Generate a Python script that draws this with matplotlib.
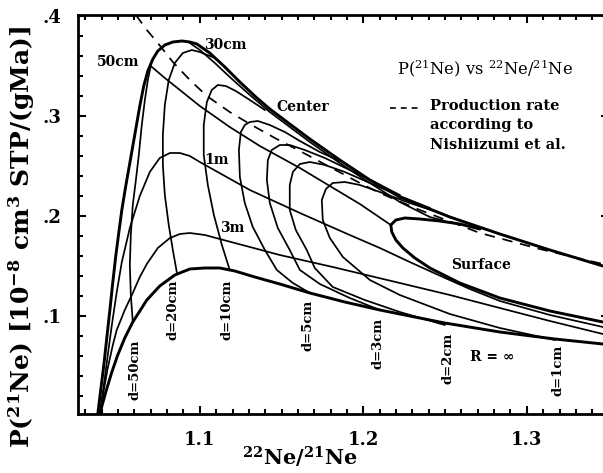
import matplotlib
matplotlib.use("Agg")
import matplotlib.pyplot as plt
from matplotlib.ticker import MultipleLocator

plt.rcParams['font.family'] = ['DejaVu Serif']
plt.rcParams['mathtext.fontset'] = 'custom'
plt.rcParams['mathtext.rm'] = 'DejaVu Serif'
plt.rcParams['mathtext.bf'] = 'DejaVu Serif:bold'
plt.rcParams['mathtext.default'] = 'regular'

# ---- data (x = 22Ne/21Ne, y = P(21Ne)) ----
center = [(1.0376, .002), (1.0394, .026), (1.0413, .051), (1.0431, .078), (1.0450, .106),
          (1.0468, .134), (1.0486, .160), (1.0505, .184), (1.0523, .206), (1.0547, .230),
          (1.0572, .253), (1.0602, .281), (1.0633, .310), (1.0657, .330), (1.0682, .345),
          (1.0713, .357), (1.0743, .365), (1.0786, .371), (1.0835, .374), (1.0890, .375),
          (1.0939, .374), (1.0982, .372), (1.1061, .363), (1.1153, .349), (1.1245, .334),
          (1.1336, .320), (1.1428, .307), (1.1550, .292), (1.1673, .277), (1.1856, .256),
          (1.2040, .236), (1.2223, .219), (1.2529, .199), (1.2835, .182), (1.3141, .166),
          (1.3465, .150)]
r_inf = [(1.0388, .002), (1.0425, .024), (1.0462, .044), (1.0498, .061), (1.0541, .078),
         (1.0590, .094), (1.0676, .116), (1.0755, .130), (1.0847, .141), (1.0939, .147),
         (1.1031, .148), (1.1122, .148), (1.1214, .145), (1.1336, .139), (1.1489, .132),
         (1.1673, .123), (1.1887, .114), (1.2101, .106), (1.2498, .093), (1.2835, .084),
         (1.3171, .077), (1.3465, .072)]
r_3m = [(1.0388, .002), (1.0413, .026), (1.0437, .048), (1.0468, .071), (1.0492, .086),
        (1.0541, .106), (1.0590, .123), (1.0633, .139), (1.0676, .152), (1.0743, .168),
        (1.0817, .178), (1.0878, .182), (1.0939, .183), (1.1031, .181), (1.1122, .177),
        (1.1306, .169), (1.1489, .161), (1.1813, .149), (1.2223, .133), (1.2529, .121),
        (1.2835, .108), (1.3141, .095), (1.3465, .082)]
r_1m = [(1.0388, .002), (1.0413, .031), (1.0437, .061), (1.0462, .091), (1.0492, .124),
        (1.0523, .154), (1.0572, .188), (1.0633, .220), (1.0694, .244), (1.0755, .258),
        (1.0817, .263), (1.0878, .263), (1.0939, .260), (1.1000, .254), (1.1306, .226),
        (1.1612, .203), (1.1917, .181), (1.2101, .168), (1.2284, .154), (1.2486, .139),
        (1.2651, .127), (1.2835, .115), (1.3141, .101), (1.3465, .089)]
r_50cm = [(1.0700, .350), (1.0786, .338), (1.0878, .326), (1.1000, .310), (1.1183, .289),
          (1.1367, .270), (1.1612, .248), (1.1795, .230), (1.1979, .212), (1.2168, .191)]
r_30cm = [(1.0939, .373), (1.1000, .366), (1.1092, .353), (1.1183, .339), (1.1306, .321),
          (1.1428, .304), (1.1550, .289), (1.1673, .274), (1.1856, .253), (1.2040, .233),
          (1.2223, .214), (1.2407, .199), (1.2498, .195)]
surface = [(1.2713, .187), (1.2590, .192), (1.2468, .195), (1.2346, .197), (1.2254, .198),
           (1.2199, .196), (1.2168, .191), (1.2174, .184), (1.2199, .176), (1.2242, .168),
           (1.2315, .158), (1.2407, .148), (1.2590, .133), (1.2835, .118), (1.3141, .105),
           (1.3465, .094)]
d_50cm = [(1.0590, .094), (1.0578, .121), (1.0572, .151), (1.0578, .181), (1.0590, .211),
          (1.0609, .236), (1.0627, .261), (1.0645, .291), (1.0664, .316), (1.0682, .336),
          (1.0700, .350)]
d_20cm = [(1.0859, .144), (1.0835, .166), (1.0810, .191), (1.0786, .221), (1.0774, .251),
          (1.0774, .281), (1.0786, .311), (1.0810, .336), (1.0847, .353), (1.0896, .363),
          (1.0951, .366), (1.1000, .364), (1.1092, .358)]
d_10cm = [(1.1183, .146), (1.1135, .171), (1.1086, .201), (1.1049, .231), (1.1024, .261),
          (1.1024, .291), (1.1043, .314), (1.1073, .326), (1.1110, .331), (1.1159, .330),
          (1.1220, .325), (1.1306, .316), (1.1398, .306)]
d_5cm = [(1.1673, .123), (1.1569, .133), (1.1471, .146), (1.1398, .166), (1.1324, .189),
         (1.1275, .213), (1.1245, .239), (1.1239, .266), (1.1251, .284), (1.1275, .291),
         (1.1306, .294), (1.1355, .295), (1.1428, .291), (1.1520, .284), (1.1612, .275),
         (1.1734, .264), (1.1856, .255)]
d_3cm = [(1.2101, .106), (1.1917, .118), (1.1734, .132), (1.1612, .146), (1.1550, .166),
         (1.1477, .188), (1.1428, .213), (1.1410, .236), (1.1416, .256), (1.1440, .266),
         (1.1489, .271), (1.1550, .271), (1.1642, .266), (1.1765, .258), (1.1917, .246),
         (1.2070, .234), (1.2223, .221)]
d_2cm = [(1.2498, .091), (1.2223, .104), (1.2009, .116), (1.1813, .129), (1.1703, .148),
         (1.1654, .166), (1.1587, .186), (1.1550, .206), (1.1550, .231), (1.1569, .244),
         (1.1612, .252), (1.1673, .254), (1.1765, .251), (1.1887, .244), (1.2040, .233),
         (1.2223, .220), (1.2407, .208)]
d_1cm = [(1.3171, .076), (1.2835, .088), (1.2529, .102), (1.2223, .121), (1.2040, .136),
         (1.1875, .159), (1.1795, .178), (1.1752, .196), (1.1746, .216), (1.1771, .227),
         (1.1813, .233), (1.1887, .234), (1.1979, .231), (1.2101, .224), (1.2284, .213),
         (1.2468, .203), (1.2651, .192)]
nishiizumi = [(1.0609, .401), (1.0676, .386), (1.0743, .373), (1.0835, .354), (1.0939, .336),
              (1.1043, .320), (1.1183, .304), (1.1306, .292), (1.1459, .278), (1.1612, .265),
              (1.1795, .249), (1.1979, .233), (1.2101, .223), (1.2346, .206), (1.2713, .183),
              (1.3079, .167), (1.3465, .152)]

thick_curves = [center, r_inf, surface]
thin_curves = [r_3m, r_1m, r_50cm, r_30cm, d_50cm, d_20cm, d_10cm, d_5cm, d_3cm, d_2cm, d_1cm]

radius_labels = ["50cm", "30cm", "Center", "1m", "3m", "Surface", "R = \u221e"]
radius_label_pos = [(1.0498, .354), (1.1153, .371), (1.1630, .309), (1.1104, .256),
                    (1.1200, .188), (1.2719, .151), (1.2786, .059)]
depth_labels = ["d=50cm", "d=20cm", "d=10cm", "d=5cm", "d=3cm", "d=2cm", "d=1cm"]
depth_label_pos = [(1.0602, .046), (1.0835, .106), (1.1165, .106), (1.1661, .091),
                   (1.2089, .073), (1.2517, .058), (1.3190, .046)]

legend_dash_x = [1.2162, 1.2346]
legend_dash_y = [0.308, 0.308]
legend_text = "Production rate\naccording to\nNishiizumi et al."

xticks = [1.1, 1.2, 1.3]
xticklabels = ["1.1", "1.2", "1.3"]
yticks = [0.1, 0.2, 0.3, 0.4]
yticklabels = [".1", ".2", ".3", ".4"]

# ---- figure ----
W, H = 603, 473
fig = plt.figure(figsize=(W / 100, H / 100), dpi=100)
ax = fig.add_axes([78 / W, 59 / H, 530.6 / W, 399 / H])
ax.set_xlim(1.0255, 1.35)
ax.set_ylim(0.002, 0.401)

for c in thick_curves:
    xs, ys = zip(*c)
    ax.plot(xs, ys, color='black', lw=2.1, solid_capstyle='round', solid_joinstyle='round')
for c in thin_curves:
    xs, ys = zip(*c)
    ax.plot(xs, ys, color='black', lw=1.25, solid_joinstyle='round')
xs, ys = zip(*nishiizumi)
ax.plot(xs, ys, color='black', lw=1.25, dashes=(6, 4.5))

for t, (x, y) in zip(radius_labels, radius_label_pos):
    ax.text(x, y, t, ha='center', va='center', fontsize=10, fontweight='bold')
for t, (x, y) in zip(depth_labels, depth_label_pos):
    ax.text(x, y, t, ha='center', va='center', fontsize=9.5, fontweight='bold', rotation=90)

ax.text(1.2743, 0.348, r"P($^{21}$Ne) vs $^{22}$Ne/$^{21}$Ne", ha='center', va='center',
        fontsize=11.8)
# legend for dashed line
ax.plot(legend_dash_x, legend_dash_y, color='black', lw=1.2, dashes=(3.5, 3))
ax.text(1.2407, 0.317, legend_text, ha='left', va='top',
        fontsize=10.5, fontweight='bold', linespacing=1.5)

ax.set_xticks(xticks)
ax.set_xticklabels(xticklabels)
ax.set_yticks(yticks)
ax.set_yticklabels(yticklabels)
ax.xaxis.set_minor_locator(MultipleLocator(0.01))
ax.yaxis.set_minor_locator(MultipleLocator(0.02))
ax.tick_params(which='both', direction='in', top=True, right=True, width=1.5, colors='black')
ax.tick_params(which='major', length=6)
ax.tick_params(which='minor', length=3.5)
ax.tick_params(axis='x', which='major', pad=12, labelsize=13)
ax.tick_params(axis='y', which='major', pad=12, labelsize=13)
for lab in ax.get_xticklabels() + ax.get_yticklabels():
    lab.set_fontweight('bold')
for s in ax.spines.values():
    s.set_linewidth(2.0)

fig.text(22 / W, 1 - 237 / H, r"P($^{21}$Ne) [10$^{-8}$ cm$^3$ STP/(gMa)]", rotation=90,
         ha='center', va='center', fontsize=18, fontweight='bold')
fig.text(300 / W, 1 - 457 / H, r"$^{22}$Ne/$^{21}$Ne", ha='center', va='center',
         fontsize=15, fontweight='bold')

fig.savefig("out.png", dpi=100)
